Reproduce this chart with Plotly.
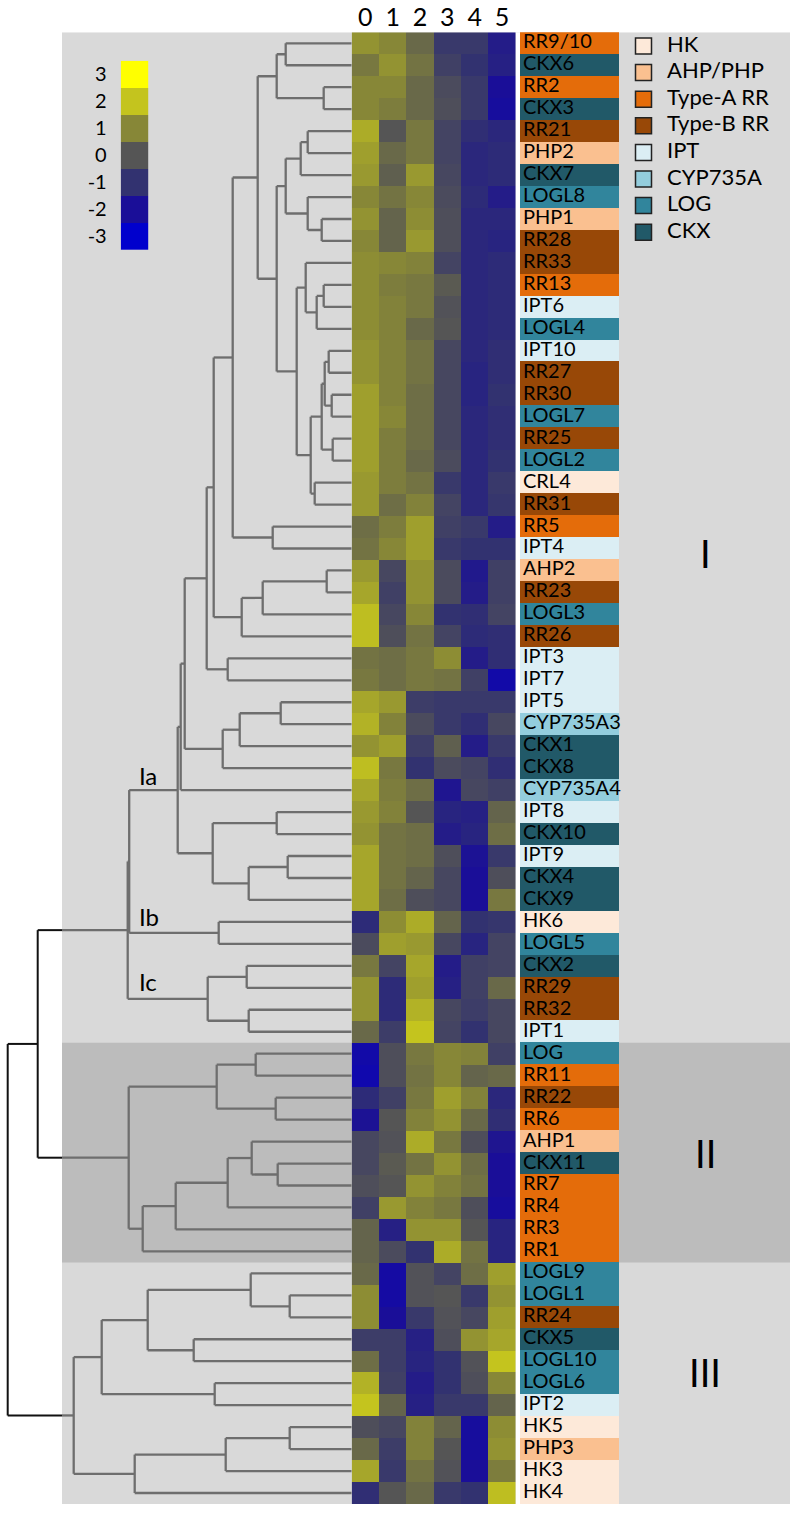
import plotly.graph_objects as go

# ---------------- data ----------------
genes = ["RR9/10", "CKX6", "RR2", "CKX3", "RR21", "PHP2", "CKX7", "LOGL8", "PHP1", "RR28",
         "RR33", "RR13", "IPT6", "LOGL4", "IPT10", "RR27", "RR30", "LOGL7", "RR25", "LOGL2",
         "CRL4", "RR31", "RR5", "IPT4", "AHP2", "RR23", "LOGL3", "RR26", "IPT3", "IPT7",
         "IPT5", "CYP735A3", "CKX1", "CKX8", "CYP735A4", "IPT8", "CKX10", "IPT9", "CKX4", "CKX9",
         "HK6", "LOGL5", "CKX2", "RR29", "RR32", "IPT1", "LOG", "RR11", "RR22", "RR6",
         "AHP1", "CKX11", "RR7", "RR4", "RR3", "RR1", "LOGL9", "LOGL1", "RR24", "CKX5",
         "LOGL10", "LOGL6", "IPT2", "HK5", "PHP3", "HK3", "HK4"]

gene_family = ["Type-A RR", "CKX", "Type-A RR", "CKX", "Type-B RR", "AHP/PHP", "CKX", "LOG", "AHP/PHP", "Type-B RR",
               "Type-B RR", "Type-A RR", "IPT", "LOG", "IPT", "Type-B RR", "Type-B RR", "LOG", "Type-B RR", "LOG",
               "HK", "Type-B RR", "Type-A RR", "IPT", "AHP/PHP", "Type-B RR", "LOG", "Type-B RR", "IPT", "IPT",
               "IPT", "CYP735A", "CKX", "CKX", "CYP735A", "IPT", "CKX", "IPT", "CKX", "CKX",
               "HK", "LOG", "CKX", "Type-B RR", "Type-B RR", "IPT", "LOG", "Type-A RR", "Type-B RR", "Type-A RR",
               "AHP/PHP", "CKX", "Type-A RR", "Type-A RR", "Type-A RR", "Type-A RR", "LOG", "LOG", "Type-B RR", "CKX",
               "LOG", "LOG", "IPT", "HK", "AHP/PHP", "HK", "HK"]

family_names = ["HK", "AHP/PHP", "Type-A RR", "Type-B RR", "IPT", "CYP735A", "LOG", "CKX"]
family_colors = ["#fde9d9", "#fac090", "#e46c0a", "#984807", "#dbeef4", "#93cddd", "#31859c", "#215968"]

timepoints = ["0", "1", "2", "3", "4", "5"]

expr_t0 = [1.2, 0.7, 1.0, 1.0, 1.6, 1.4, 1.3, 1.0, 1.2, 1.0,
           1.1, 1.1, 1.1, 1.1, 1.2, 1.2, 1.4, 1.4, 1.4, 1.4,
           1.3, 1.3, 0.5, 0.6, 1.3, 1.5, 1.9, 1.9, 0.6, 0.7,
           1.5, 1.7, 1.2, 1.9, 1.5, 1.3, 1.2, 1.5, 1.5, 1.5,
           -1.2, -0.3, 0.7, 1.2, 1.2, 0.4, -2.3, -2.4, -1.2, -1.9,
           -0.4, -0.4, -0.2, -0.6, 0.3, 0.3, 0.4, 1.1, 1.1, -0.7,
           0.5, 1.7, 2.0, -0.2, 0.4, 1.5, -1.1]
expr_t1 = [1.0, 1.2, 1.0, 0.8, 0.0, 0.4, 0.2, 0.6, 0.3, 0.3,
           1.0, 0.8, 0.9, 0.9, 0.9, 0.9, 0.9, 1.0, 0.8, 0.8,
           0.8, 0.5, 0.8, 1.0, -0.4, -0.6, -0.4, -0.2, 0.5, 0.5,
           1.3, 0.9, 1.4, 0.7, 0.8, 0.9, 0.6, 0.6, 0.6, 0.5,
           1.1, 1.4, -0.5, -1.2, -1.2, -0.7, -0.2, -0.2, -0.6, 0.0,
           -0.1, 0.1, 0.0, 1.3, -1.5, -0.3, -2.2, -2.2, -2.0, -0.7,
           -0.7, -0.6, 0.3, -0.4, -0.7, -0.8, 0.0]
expr_t2 = [0.4, 0.6, 0.4, 0.4, 0.7, 0.7, 1.3, 1.0, 1.1, 1.3,
           0.9, 0.7, 0.7, 0.4, 0.6, 0.6, 0.5, 0.5, 0.5, 0.4,
           0.6, 0.9, 1.4, 1.4, 1.2, 1.2, 1.0, 0.6, 0.7, 0.7,
           -0.7, -0.3, -0.7, -1.0, 0.5, 0.0, 0.5, 0.5, 0.3, -0.2,
           1.6, 1.3, 1.5, 1.4, 1.7, 2.0, 0.7, 0.6, 0.7, 0.9,
           1.6, 0.6, 1.2, 0.9, 1.2, -1.0, -0.1, -0.1, -0.8, -1.5,
           -1.4, -1.6, -1.5, 0.9, 0.9, 0.6, 0.4]
expr_t3 = [-0.8, -0.6, -0.3, -0.2, -0.5, -0.5, -0.4, -0.3, -0.2, -0.2,
           -0.5, 0.1, -0.1, 0.0, -0.4, -0.4, -0.4, -0.4, -0.4, -0.3,
           -0.8, -0.5, -0.6, -0.8, -0.3, -0.3, -1.0, -0.5, 1.1, 0.6,
           -0.8, -0.8, 0.2, -0.3, -1.8, -1.4, -1.6, -0.2, -0.4, -0.4,
           0.3, -0.4, -1.6, -1.5, -0.4, -0.5, 1.0, 1.0, 1.4, 1.2,
           0.7, 1.2, 0.9, 0.7, 1.2, 1.6, -0.5, 0.0, -0.1, -0.2,
           -1.0, -1.0, -0.8, 0.3, 0.0, -0.1, -0.8]
expr_t4 = [-0.8, -1.0, -0.8, -0.8, -1.1, -1.3, -1.3, -1.2, -1.3, -1.3,
           -1.3, -1.3, -1.3, -1.3, -1.3, -1.4, -1.4, -1.3, -1.3, -1.3,
           -1.3, -1.3, -0.8, -1.0, -1.7, -1.6, -1.1, -1.2, -1.6, -0.6,
           -0.8, -1.1, -1.6, -0.5, -0.4, -1.5, -1.4, -1.9, -2.0, -2.0,
           -1.0, -1.4, -0.6, -0.6, -0.7, -1.0, 0.9, 0.3, 0.9, 0.4,
           -0.2, 0.5, 0.6, -0.2, 0.0, 0.6, 0.5, -0.8, -0.4, 1.2,
           -0.1, -0.2, -0.8, -2.1, -2.1, -2.0, -1.0]
expr_t5 = [-1.6, -1.5, -2.0, -2.1, -1.3, -1.2, -1.2, -1.6, -1.3, -1.4,
           -1.2, -1.2, -1.2, -1.2, -1.1, -1.1, -1.0, -1.1, -1.1, -1.0,
           -0.8, -0.9, -1.6, -1.0, -0.6, -0.6, -0.5, -1.1, -1.1, -2.3,
           -0.8, -0.4, -0.8, -1.1, -0.6, 0.3, 0.5, -0.8, -0.2, 0.7,
           -0.9, -0.5, -0.5, 0.4, -0.4, -0.4, -0.6, 0.4, -1.3, -1.1,
           -1.8, -2.0, -2.0, -2.1, -1.4, -1.4, 1.4, 1.2, 1.4, 1.5,
           2.0, 1.0, 0.3, 1.1, 1.2, 0.8, 1.9]

key_levels = [-3, -2, -1, 0, 1, 2, 3]
key_colors = ["rgb(0,0,205)", "rgb(26,14,152)", "rgb(50,50,112)", "rgb(85,85,85)",
              "rgb(135,135,55)", "rgb(196,196,30)", "rgb(255,255,0)"]

# hierarchical clustering (scipy-like linkage: left, right, merge distance)
# leaves are 0..66 (row order), merge k gets id 67+k
linkage = [
    (0, 1, 66), (2, 3, 28), (67, 68, 75), (4, 5, 44), (70, 6, 51), (8, 9, 30), (7, 72, 44),
    (71, 73, 66), (11, 12, 28), (75, 13, 35), (10, 76, 46), (14, 15, 23), (16, 17, 20),
    (78, 79, 27), (18, 19, 19), (80, 81, 30), (20, 21, 37), (82, 83, 41), (77, 84, 55),
    (74, 85, 75), (69, 86, 94), (22, 23, 79), (87, 88, 119), (24, 25, 25), (90, 26, 89),
    (91, 27, 110), (89, 92, 138), (28, 29, 124), (93, 94, 145), (30, 31, 71), (96, 32, 112),
    (97, 33, 129), (95, 98, 167), (99, 34, 171), (35, 36, 75), (37, 38, 64), (102, 39, 103),
    (101, 103, 139), (100, 104, 174), (40, 41, 133), (42, 43, 105), (44, 45, 103),
    (107, 108, 144), (105, 106, 222.5), (110, 109, 224),
    (46, 47, 96), (48, 49, 76), (112, 113, 135), (51, 52, 74), (50, 115, 100), (116, 53, 124),
    (117, 54, 176), (118, 55, 209), (114, 119, 223),
    (57, 58, 62), (56, 121, 101), (59, 60, 158), (122, 123, 204), (61, 62, 137),
    (124, 125, 250), (63, 64, 62), (127, 65, 126), (128, 66, 217), (126, 129, 278),
    (111, 120, 314), (131, 130, 344),
]

cluster_names = ["I", "II", "III"]
cluster_rows = [(1, 46), (47, 56), (57, 67)]
subcluster_names = ["Ia", "Ib", "Ic"]

# ---------------- layout geometry ----------------
W, H = 800, 1516
HM_L, HM_R = 351.7, 515.7
LB_L, LB_R = 520.0, 619.0
TOP, BOT = 32.3, 1504.0
PANEL_L, PANEL_R = 62.0, 790.0
n = len(genes)
rows = list(range(1, n + 1))


def px(x):
    return x / W


def py(y):
    return 1 - y / H


font = "Lato"
fig = go.Figure()

# heatmap
z = [[expr_t0[i], expr_t1[i], expr_t2[i], expr_t3[i], expr_t4[i], expr_t5[i]] for i in range(n)]
cscale = [[(lv + 3) / 6, c] for lv, c in zip(key_levels, key_colors)]
fig.add_trace(go.Heatmap(z=z, x=list(range(len(timepoints))), y=rows, colorscale=cscale,
                         zmin=-3, zmax=3, showscale=False, xaxis="x", yaxis="y", hoverinfo="skip"))

# dendrogram
pos = {i: (i + 1, 0.0) for i in range(n)}
edge_h = HM_L - PANEL_L
gx, gy, bx, by = [], [], [], []


def seg(xs, ys, x0, y0, x1, y1):
    xs += [x0, x1, None]
    ys += [y0, y1, None]


for k, (a, b, h) in enumerate(linkage):
    ya, ha = pos[a]
    yb, hb = pos[b]
    outside = h > edge_h
    for yc, hc in ((ya, ha), (yb, hb)):
        if not outside:
            seg(gx, gy, hc, yc, h, yc)
        elif hc < edge_h:
            seg(gx, gy, hc, yc, edge_h, yc)
            seg(bx, by, edge_h, yc, h, yc)
        else:
            seg(bx, by, hc, yc, h, yc)
    if outside:
        seg(bx, by, h, ya, h, yb)
    else:
        seg(gx, gy, h, ya, h, yb)
    pos[n + k] = ((ya + yb) / 2, h)

fig.add_trace(go.Scatter(x=gx, y=gy, mode="lines", line=dict(color="#6e6e6e", width=2.3),
                         xaxis="x2", yaxis="y", hoverinfo="skip", showlegend=False))
fig.add_trace(go.Scatter(x=bx, y=by, mode="lines", line=dict(color="#111111", width=2),
                         xaxis="x2", yaxis="y", hoverinfo="skip", showlegend=False, cliponaxis=False))

# gene family bars + labels
for fam, col in zip(family_names, family_colors):
    yy = [r for r, f in zip(rows, gene_family) if f == fam]
    fig.add_trace(go.Bar(x=[1] * len(yy), y=yy, orientation="h", width=1, base=0,
                         marker=dict(color=col, line=dict(width=0)), xaxis="x3", yaxis="y",
                         showlegend=False, hoverinfo="skip"))
fig.add_trace(go.Scatter(x=[0.03] * n, y=rows, text=genes, mode="text", textposition="middle right",
                         textfont=dict(family=font, size=20, color="black"), xaxis="x3", yaxis="y",
                         cliponaxis=False, showlegend=False, hoverinfo="skip"))

# colour key
fig.add_trace(go.Heatmap(z=[[lv] for lv in key_levels], x=[0], y=key_levels, colorscale=cscale,
                         zmin=-3, zmax=3, showscale=False, xaxis="x4", yaxis="y4", hoverinfo="skip"))

# family legend (custom)
leg_y = [46 + 26.6 * i for i in range(len(family_names))]
fig.add_trace(go.Scatter(x=[13.5] * len(family_names), y=leg_y, mode="markers",
                         marker=dict(symbol="square", size=16, color=family_colors,
                                     line=dict(color="#222222", width=1.5)),
                         xaxis="x5", yaxis="y5", showlegend=False, hoverinfo="skip", cliponaxis=False))
fig.add_trace(go.Scatter(x=[37] * len(family_names), y=leg_y, mode="text", text=family_names,
                         textposition="middle right", textfont=dict(family=font, size=22, color="black"),
                         xaxis="x5", yaxis="y5", showlegend=False, hoverinfo="skip", cliponaxis=False))

# background panels
shapes = [
    dict(type="rect", xref="paper", yref="y", x0=px(PANEL_L), x1=px(PANEL_R), y0=0.5, y1=n + 0.5,
         fillcolor="#d9d9d9", line=dict(width=0), layer="below"),
    dict(type="rect", xref="paper", yref="y", x0=px(PANEL_L), x1=px(PANEL_R),
         y0=cluster_rows[1][0] - 0.5, y1=cluster_rows[1][1] + 0.5,
         fillcolor="#bcbcbc", line=dict(width=0), layer="below"),
    dict(type="rect", xref="paper", yref="y", x0=px(HM_R), x1=px(LB_L), y0=0.5, y1=n + 0.5,
         fillcolor="white", line=dict(width=0), layer="below"),
]

annotations = []
cl_y = [24.2, 51.5, 61.5]
for name, yv in zip(cluster_names, cl_y):
    annotations.append(dict(text=name, xref="paper", yref="y", x=px(705), y=yv, showarrow=False,
                            font=dict(family=font, size=38, color="black"), xanchor="center", yanchor="middle"))
sub_pos = [(776, 34.35), (917, 40.77), (982, 43.73)]
for name, (_, yv) in zip(subcluster_names, sub_pos):
    annotations.append(dict(text=name, xref="x2", yref="y", x=HM_L - 137, y=yv, showarrow=False,
                            font=dict(family=font, size=24, color="black"), xanchor="left", yanchor="middle"))

fig.update_layout(
    width=W, height=H, margin=dict(l=0, r=0, t=0, b=0, pad=0),
    paper_bgcolor="white", plot_bgcolor="rgba(0,0,0,0)", showlegend=False, bargap=0,
    shapes=shapes, annotations=annotations,
    xaxis=dict(domain=[px(HM_L), px(HM_R)], range=[-0.5, 5.5], side="top", tickvals=list(range(6)),
               ticktext=timepoints, tickfont=dict(family=font, size=25, color="black"),
               showgrid=False, zeroline=False, showline=False, ticks="", anchor="y"),
    yaxis=dict(domain=[py(BOT), py(TOP)], range=[n + 0.5, 0.5], visible=False, anchor="x"),
    xaxis2=dict(domain=[0, px(HM_L)], range=[HM_L, 0], visible=False, anchor="y"),
    xaxis3=dict(domain=[px(LB_L), px(LB_R)], range=[0, 1], visible=False, anchor="y"),
    xaxis4=dict(domain=[px(120.7), px(148.3)], range=[-0.5, 0.5], visible=False, anchor="y4"),
    yaxis4=dict(domain=[py(250), py(60.7)], range=[-3.5, 3.5], anchor="x4", side="left",
                tickvals=key_levels, ticktext=[str(v) for v in key_levels],
                tickfont=dict(family=font, size=20, color="black"), ticks="outside", ticklen=9,
                tickcolor="rgba(0,0,0,0)", showgrid=False, zeroline=False, showline=False),
    xaxis5=dict(domain=[px(630), px(790)], range=[0, 160], visible=False, anchor="y5"),
    yaxis5=dict(domain=[py(260), py(30)], range=[260, 30], visible=False, anchor="x5"),
)

fig.write_html("out.html", config={"displayModeBar": False},
               post_script="document.body.style.margin='0px';")
